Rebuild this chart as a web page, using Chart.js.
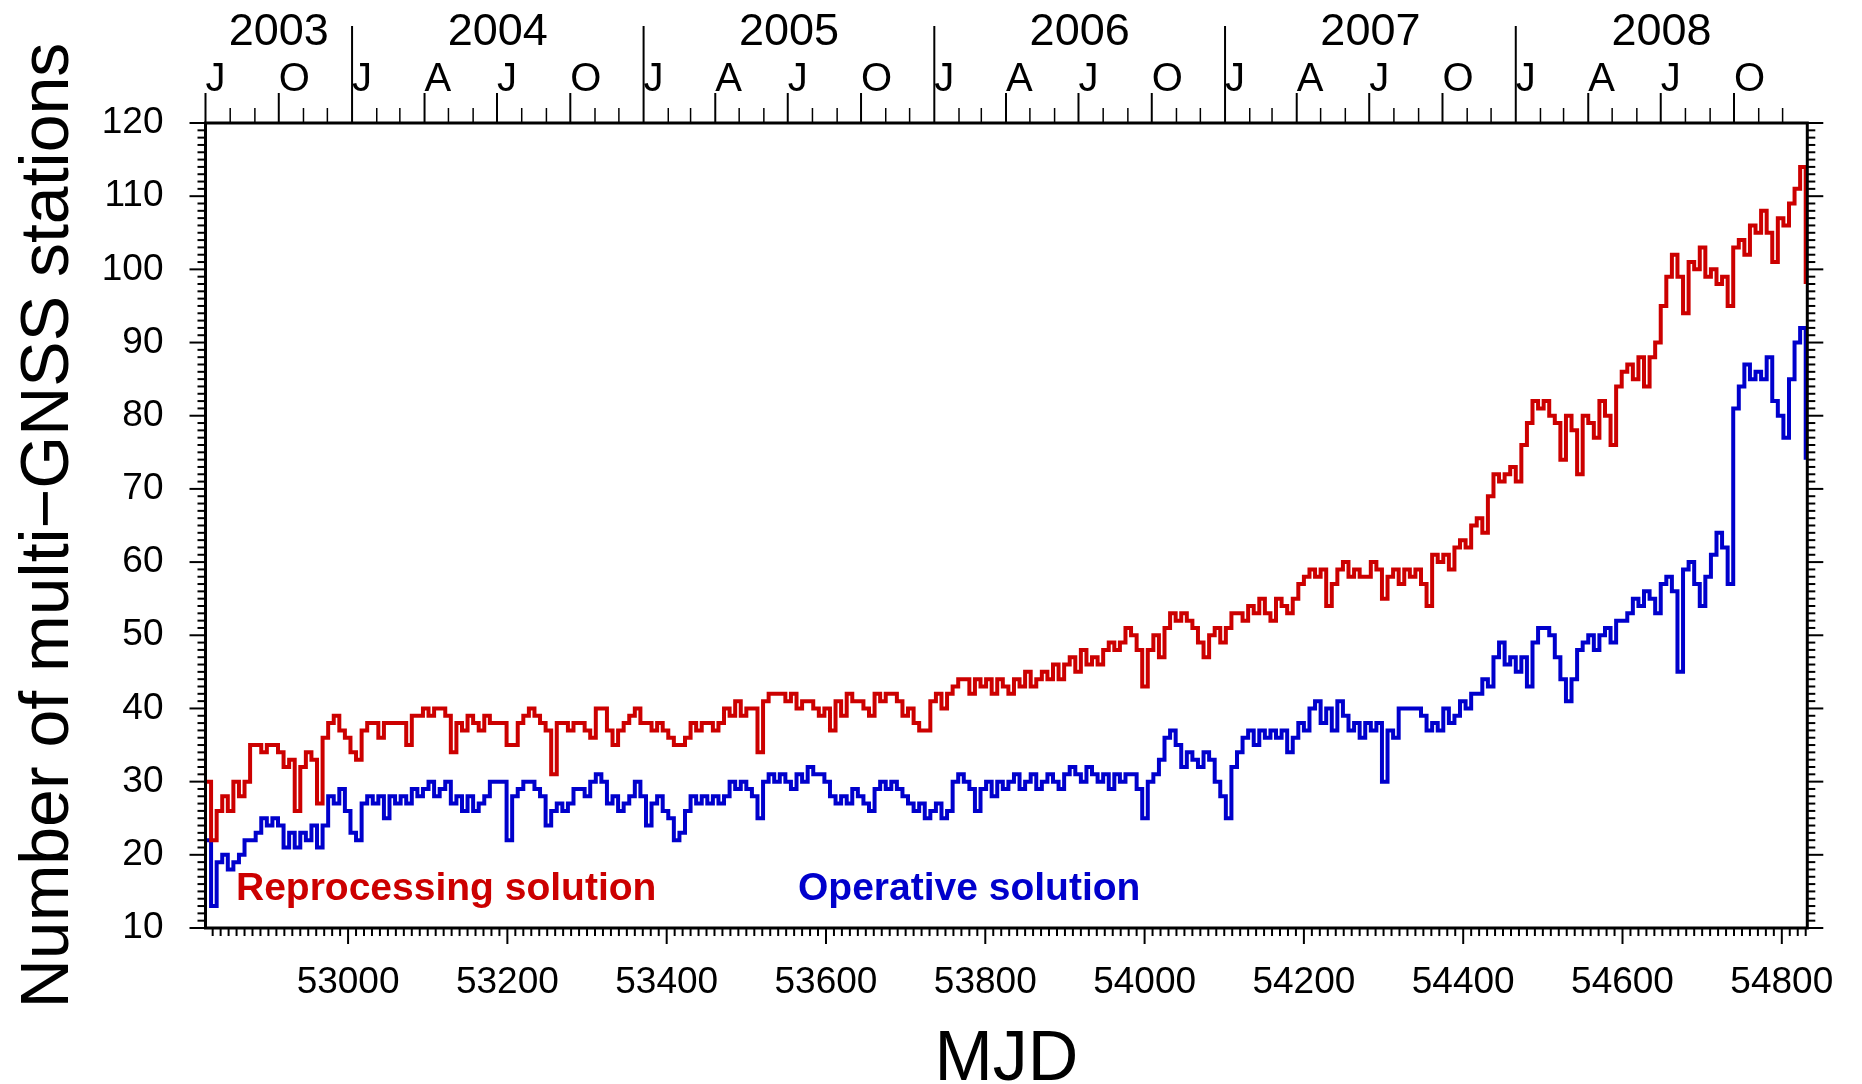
<!DOCTYPE html>
<html>
<head>
<meta charset="utf-8">
<title>Multi-GNSS stations</title>
<script src="https://cdn.jsdelivr.net/npm/chart.js@4.4.1/dist/chart.umd.min.js"></script>
<style>
  html, body { margin: 0; padding: 0; background: #fff; }
  canvas { display: block; }
</style>
</head>
<body>
<canvas id="c" width="1862" height="1084"></canvas>
<script>
// Sampling grid: one value every STEP days starting at FIRST_DAY (MJD)
const FIRST_DAY = 52821;
const STEP = 7;

// Number of stations, reprocessing solution
const reprocessing = [
  30,22,26,28,26,30,28,30,35,35,
  34,35,35,34,32,33,26,32,34,33,
  27,36,38,39,37,36,34,33,37,38,
  38,36,38,38,38,38,35,39,39,40,
  39,40,40,39,34,38,37,39,38,37,
  39,38,38,38,35,35,38,39,40,39,
  38,37,31,38,38,37,38,38,37,36,
  40,40,37,35,37,38,39,40,38,38,
  37,38,37,36,35,35,36,38,37,38,
  38,37,38,40,39,41,39,40,40,34,
  41,42,42,42,41,42,40,41,41,40,
  39,40,37,41,39,42,41,41,40,39,
  42,41,42,42,41,39,40,38,37,37,
  41,42,40,42,43,44,44,42,44,43,
  44,42,44,43,42,44,43,45,43,44,
  45,44,46,44,46,47,45,48,46,47,
  46,48,49,48,49,51,50,48,43,48,
  50,47,51,53,52,53,52,51,49,47,
  50,51,49,51,53,53,52,54,53,55,
  53,52,55,54,53,55,57,58,59,58,
  59,54,57,59,60,58,59,58,58,60,
  59,55,58,59,57,59,58,59,57,54,
  61,60,61,59,62,63,62,65,66,64,
  69,72,71,72,73,71,76,79,82,81,
  82,80,79,74,80,78,72,80,79,77,
  82,80,76,84,86,87,85,88,84,88,
  90,95,99,102,99,94,101,100,103,99,
  100,98,99,95,103,104,102,106,105,108,
  105,101,107,106,109,111,114,98
];

// Number of stations, operative solution
const operative = [
  22,13,19,20,18,19,20,22,22,23,
  25,24,25,24,21,23,21,23,22,24,
  21,24,28,27,29,26,23,22,27,28,
  27,28,25,28,27,28,27,29,28,29,
  30,28,29,30,27,28,26,28,26,27,
  28,30,30,30,22,28,29,30,30,29,
  28,24,26,27,26,27,29,29,28,30,
  31,30,27,28,26,27,28,30,28,24,
  27,28,26,25,22,23,26,28,27,28,
  27,28,27,28,30,29,30,29,28,25,
  30,31,30,31,30,29,31,30,32,31,
  31,30,28,27,28,27,29,28,27,26,
  29,30,29,30,29,28,27,26,27,25,
  26,27,25,26,30,31,30,29,26,29,
  30,28,30,29,30,31,29,30,31,29,
  30,31,30,29,31,32,31,30,32,31,
  30,31,29,31,30,31,31,29,25,30,
  31,33,36,37,35,32,34,33,32,34,
  33,30,28,25,32,34,36,37,35,37,
  36,37,36,37,34,36,38,37,40,41,
  38,40,37,41,39,37,38,36,38,37,
  38,30,37,36,40,40,40,40,39,37,
  38,37,40,38,39,41,40,42,42,44,
  43,47,49,46,47,45,47,43,49,51,
  51,50,47,44,41,44,48,49,50,48,
  50,51,49,52,52,53,55,54,56,55,
  53,57,58,56,45,59,60,57,54,58,
  61,64,62,57,81,84,87,85,86,85,
  88,82,80,77,85,90,92,74
];

const days = reprocessing.map((_, i) => FIRST_DAY + i * STEP);

// Axis ranges and labelled ticks
const X_MIN = 52821, X_MAX = 54832;   // 2003-07-01 .. 2009-01-01
const Y_MIN = 10, Y_MAX = 120;
const xTicks = [53000, 53200, 53400, 53600, 53800, 54000, 54200, 54400, 54600, 54800];
const yTicks = [10, 20, 30, 40, 50, 60, 70, 80, 90, 100, 110, 120];
const monthLetters = ['J', 'F', 'M', 'A', 'M', 'J', 'J', 'A', 'S', 'O', 'N', 'D'];

const RED = '#cc0000';
const BLUE = '#0000cc';
const FONT = "'Liberation Sans', Arial, Helvetica, sans-serif";

function mjdOf(year, month) {
  return Date.UTC(year, month, 1) / 86400000 + 40587;
}

function seg(ctx, x1, y1, x2, y2) {
  ctx.beginPath();
  ctx.moveTo(x1, y1);
  ctx.lineTo(x2, y2);
  ctx.stroke();
}

// Frame, minor ticks, calendar axis on top, in-plot labels and axis titles
const decor = {
  id: 'decor',
  afterDatasetsDraw(chart) {
    const { ctx, chartArea: a, scales: { x, y } } = chart;
    ctx.save();
    ctx.strokeStyle = '#000';
    ctx.fillStyle = '#000';
    ctx.lineWidth = 2;

    // value ticks on left and right edges
    for (let v = Y_MIN; v <= Y_MAX; v++) {
      const py = y.getPixelForValue(v);
      const len = v % 10 === 0 ? 16 : 8;
      seg(ctx, a.left - len, py, a.left, py);
      seg(ctx, a.right, py, a.right + len, py);
    }

    // MJD ticks below the plot
    for (let d = Math.ceil(X_MIN / 10) * 10; d <= X_MAX; d += 10) {
      const px = x.getPixelForValue(d);
      const len = d % 200 === 0 ? 16 : 8;
      seg(ctx, px, a.bottom, px, a.bottom + len);
    }

    // calendar axis above the plot
    ctx.textBaseline = 'alphabetic';
    for (let yr = 2003; yr <= 2008; yr++) {
      for (let m = 0; m < 12; m++) {
        const d = mjdOf(yr, m);
        if (d < X_MIN || d > X_MAX) continue;
        const px = x.getPixelForValue(d);
        let top;
        if (m === 0) top = 26;
        else if (m % 3 === 0) top = a.top - 30;
        else top = a.top - 15;
        ctx.lineWidth = m % 3 === 0 ? 2 : 1.5;
        seg(ctx, px, a.top, px, top);
        if (m % 3 === 0) {
          ctx.font = '40px ' + FONT;
          ctx.textAlign = 'left';
          ctx.fillText(monthLetters[m], px, 91);
        }
      }
      const start = Math.max(mjdOf(yr, 0), X_MIN);
      const end = Math.min(mjdOf(yr + 1, 0), X_MAX);
      const cx = (x.getPixelForValue(start) + x.getPixelForValue(end)) / 2;
      ctx.font = '45px ' + FONT;
      ctx.textAlign = 'center';
      ctx.fillText(String(yr), cx, 45);
    }

    // plot frame
    ctx.lineWidth = 3;
    ctx.strokeRect(a.left, a.top, a.right - a.left, a.bottom - a.top);

    // series names
    ctx.font = 'bold 39px ' + FONT;
    ctx.textAlign = 'left';
    ctx.fillStyle = RED;
    ctx.fillText('Reprocessing solution', 236, 900);
    ctx.fillStyle = BLUE;
    ctx.fillText('Operative solution', 798, 900);

    // axis titles
    ctx.fillStyle = '#000';
    ctx.font = '70px ' + FONT;
    ctx.textAlign = 'center';
    ctx.fillText('MJD', (a.left + a.right) / 2, 1080);
    ctx.save();
    ctx.translate(68, (a.top + a.bottom) / 2);
    ctx.rotate(-Math.PI / 2);
    ctx.font = '68px ' + FONT;
    ctx.fillText('Number of multi\u2212GNSS stations', 0, 0);
    ctx.restore();

    ctx.restore();
  }
};

new Chart(document.getElementById('c'), {
  type: 'line',
  data: {
    datasets: [
      {
        label: 'Reprocessing solution',
        data: days.map((d, i) => ({ x: d, y: reprocessing[i] })),
        borderColor: RED,
        borderWidth: 4,
        stepped: true,
        pointRadius: 0,
        fill: false
      },
      {
        label: 'Operative solution',
        data: days.map((d, i) => ({ x: d, y: operative[i] })),
        borderColor: BLUE,
        borderWidth: 4,
        stepped: true,
        pointRadius: 0,
        fill: false
      }
    ]
  },
  options: {
    responsive: false,
    animation: false,
    devicePixelRatio: 1,
    layout: { autoPadding: false, padding: { left: 0, right: 47, top: 123, bottom: 0 } },
    plugins: { legend: { display: false }, tooltip: { enabled: false } },
    scales: {
      x: {
        type: 'linear',
        min: X_MIN,
        max: X_MAX,
        afterBuildTicks: s => { s.ticks = xTicks.map(v => ({ value: v })); },
        afterFit: s => { s.height = 156; },
        grid: { display: false },
        border: { display: false },
        ticks: {
          autoSkip: false,
          maxRotation: 0,
          minRotation: 0,
          padding: 28,
          color: '#000',
          font: { family: FONT, size: 37, lineHeight: 1 },
          callback: v => String(v)
        }
      },
      y: {
        type: 'linear',
        min: Y_MIN,
        max: Y_MAX,
        afterBuildTicks: s => { s.ticks = yTicks.map(v => ({ value: v })); },
        afterFit: s => { s.width = 205.5; },
        grid: { display: false },
        border: { display: false },
        ticks: {
          autoSkip: false,
          padding: 34,
          color: '#000',
          font: { family: FONT, size: 37, lineHeight: 1 },
          callback: v => String(v)
        }
      }
    }
  },
  plugins: [decor]
});
</script>
</body>
</html>
